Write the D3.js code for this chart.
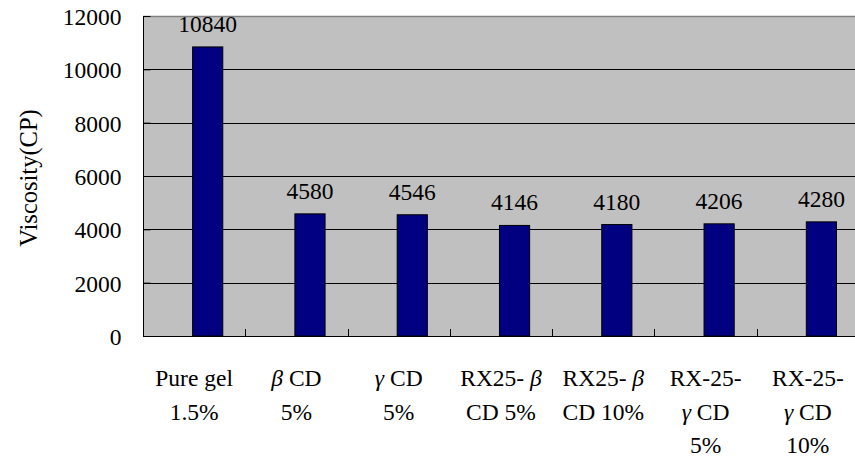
<!DOCTYPE html>
<html>
<head>
<meta charset="utf-8">
<script src="https://cdn.jsdelivr.net/npm/d3@7"></script>
<style>
  html, body { margin: 0; padding: 0; background: #fff; }
  svg { display: block; }
  text { font-family: "Liberation Serif", "DejaVu Serif", serif; fill: #000; }
</style>
</head>
<body>
<svg id="chart" width="855" height="463"></svg>
<script>
// Sample groups, each label split into its printed lines
const categories = ["Pure gel 1.5%", "βCD 5%", "γCD 5%", "RX25-βCD 5%", "RX25-βCD 10%", "RX-25-γCD 5%", "RX-25-γCD 10%"];
const labelLines = [
  ["Pure gel", "1.5%"],
  ["β CD", "5%"],
  ["γ CD", "5%"],
  ["RX25- β", "CD 5%"],
  ["RX25- β", "CD 10%"],
  ["RX-25-", "γ CD", "5%"],
  ["RX-25-", "γ CD", "10%"]
];
const viscosity = [10840, 4580, 4546, 4146, 4180, 4206, 4280];
const yTicks = [0, 2000, 4000, 6000, 8000, 10000, 12000];
const yTitle = "Viscosity(CP)";

const svg = d3.select("#chart");
const plot = { left: 143, top: 16, right: 859, bottom: 336 };
const fs = 23.5;

const x = d3.scaleBand().domain(categories).range([plot.left, plot.right]).paddingInner(0).paddingOuter(0);
const y = d3.scaleLinear().domain([0, 12000]).range([plot.bottom, plot.top]);

// Plot background
svg.append("rect")
  .attr("x", plot.left).attr("y", plot.top)
  .attr("width", plot.right - plot.left).attr("height", plot.bottom - plot.top)
  .attr("fill", "#c0c0c0");

// Top border of the plot area
svg.append("line")
  .attr("x1", plot.left).attr("x2", plot.right)
  .attr("y1", plot.top + 0.5).attr("y2", plot.top + 0.5)
  .attr("stroke", "#808080").attr("stroke-width", 1.5);

// Horizontal gridlines
svg.append("g").selectAll("line")
  .data(yTicks.filter(t => t > 0 && t < 12000))
  .join("line")
  .attr("x1", plot.left).attr("x2", plot.right)
  .attr("y1", d => Math.round(y(d)) + 0.5).attr("y2", d => Math.round(y(d)) + 0.5)
  .attr("stroke", "#000").attr("stroke-width", 1);

// Bars sit in the right half of each category slot
const bw = x.bandwidth();
svg.append("g").selectAll("rect")
  .data(viscosity)
  .join("rect")
  .attr("x", (d, i) => x(categories[i]) + bw * 0.485)
  .attr("y", d => y(d))
  .attr("width", bw * 0.295)
  .attr("height", d => plot.bottom - y(d))
  .attr("fill", "#000080")
  .attr("stroke", "#000").attr("stroke-width", 1);

// Value labels above bars
svg.append("g").selectAll("text")
  .data(viscosity)
  .join("text")
  .attr("x", (d, i) => x(categories[i]) + bw * 0.485 + bw * 0.295 / 2)
  .attr("y", d => y(d) - 15)
  .attr("text-anchor", "middle")
  .attr("font-size", fs)
  .text(d => d);

// Y axis with inward ticks
const yAxis = d3.axisLeft(y).tickValues(yTicks).tickSize(-7).tickFormat(d3.format("d"));
const gy = svg.append("g").attr("transform", `translate(${plot.left + 0.5},0)`).call(yAxis);
gy.select(".domain").attr("stroke", "#000").attr("d", `M0,${plot.top}V${plot.bottom}`);
gy.selectAll(".tick line").attr("stroke", "#000");
gy.selectAll(".tick text")
  .attr("font-family", "Liberation Serif, serif").attr("font-size", fs).attr("fill", "#000")
  .attr("x", -22).attr("dy", "0.36em");

// X axis: boundary ticks pointing up into the plot
const gx = svg.append("g");
gx.append("line")
  .attr("x1", plot.left).attr("x2", plot.right)
  .attr("y1", plot.bottom + 0.5).attr("y2", plot.bottom + 0.5)
  .attr("stroke", "#000").attr("stroke-width", 1.2);
gx.selectAll("line.tick")
  .data(categories.slice(1))
  .join("line").attr("class", "tick")
  .attr("x1", d => Math.round(x(d)) + 0.5).attr("x2", d => Math.round(x(d)) + 0.5)
  .attr("y1", plot.bottom).attr("y2", plot.bottom - 7)
  .attr("stroke", "#000");

// Multi-line category labels, Greek letters set in italic
const lab = svg.append("g").selectAll("text")
  .data(labelLines)
  .join("text")
  .attr("text-anchor", "middle")
  .attr("font-size", fs);
lab.each(function (lines, i) {
  const t = d3.select(this);
  const cx = x(categories[i]) + bw / 2;
  lines.forEach((line, j) => {
    const parts = line.split(/([βγ])/).filter(s => s.length);
    let first = true;
    parts.forEach(p => {
      const ts = t.append("tspan").text(p);
      if (first) { ts.attr("x", cx).attr("y", 386 + j * 33.5); first = false; }
      if (p === "β" || p === "γ") ts.attr("font-style", "italic");
    });
  });
});

// Y axis title
svg.append("text")
  .attr("transform", `translate(37,${(plot.top + plot.bottom) / 2 + 2}) rotate(-90)`)
  .attr("text-anchor", "middle")
  .attr("font-size", 24.5)
  .text(yTitle);
</script>
</body>
</html>
